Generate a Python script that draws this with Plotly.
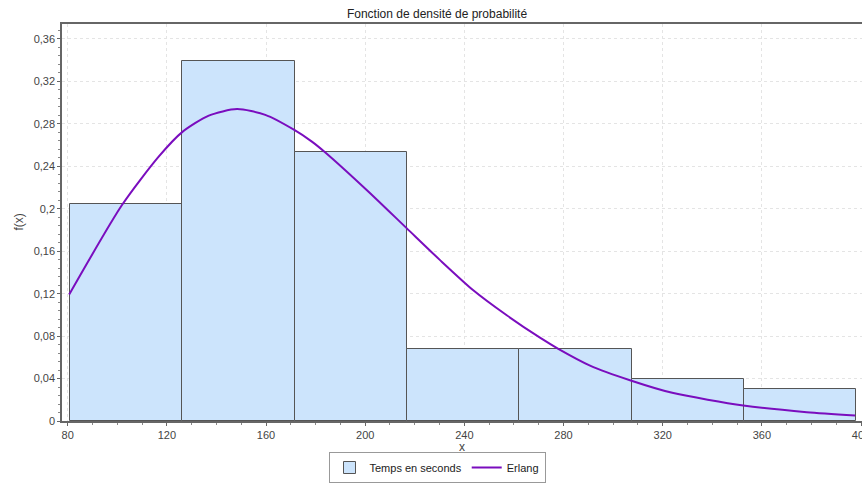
import plotly.graph_objects as go

# Histogram of observed durations (relative frequency per class)
bin_edges = [81.0, 126.3, 171.6, 216.9, 262.2, 307.5, 352.8, 398.1]
rel_freq = [0.2042, 0.3395, 0.2533, 0.0682, 0.0682, 0.0398, 0.0304]

# Fitted Erlang density, sampled along the x axis
erlang_x = [80.6, 101.9, 116.7, 126.4, 136.9, 148.3, 159.7, 171.4, 178.5, 183.8,
            200.6, 216.8, 230.2, 243.6, 257.1, 270.5, 277.9, 290.7, 307.1, 324.3,
            352.5, 378.1, 397.6]
erlang_y = [0.1192, 0.2035, 0.2491, 0.2727, 0.2878, 0.2939, 0.2885, 0.2743, 0.2633, 0.2533,
            0.2177, 0.1815, 0.1516, 0.1232, 0.0996, 0.0785, 0.0680, 0.0522, 0.0382, 0.0263,
            0.0146, 0.0083, 0.0052]

# Axis ticks (French decimal comma)
y_tick_vals = [0, 0.04, 0.08, 0.12, 0.16, 0.2, 0.24, 0.28, 0.32, 0.36]
y_tick_text = ["0", "0,04", "0,08", "0,12", "0,16", "0,2", "0,24", "0,28", "0,32", "0,36"]
x_tick_vals = [80, 120, 160, 200, 240, 280, 320, 360, 400]

centers = [(a + b) / 2 for a, b in zip(bin_edges[:-1], bin_edges[1:])]
widths = [b - a for a, b in zip(bin_edges[:-1], bin_edges[1:])]

FONT = "Liberation Sans, Arial, sans-serif"

fig = go.Figure()
fig.add_trace(go.Bar(
    x=centers, y=rel_freq, width=widths,
    name="Temps en seconds",
    marker=dict(color="#CCE4FC", line=dict(color="#555555", width=1)),
))
fig.add_trace(go.Scatter(
    x=erlang_x, y=erlang_y, mode="lines", name="Erlang",
    line=dict(color="#7A0DBE", width=2, shape="spline", smoothing=0.7),
))

axis_common = dict(
    showline=True, linecolor="#666666", linewidth=1.5, mirror=True,
    ticks="outside", ticklen=3, tickcolor="#666666",
    showgrid=True, gridcolor="#E4E4E4", griddash="3px,3px", gridwidth=1,
    zeroline=False, automargin=False, ticklabeloverflow="allow",
    tickfont=dict(family=FONT, size=11, color="#444444"),
)

fig.update_xaxes(
    range=[77.7, 400.4], tickvals=x_tick_vals,
    minor=dict(dtick=10, tick0=80, ticks="outside", ticklen=2, tickcolor="#888888", showgrid=False),
    **axis_common,
)
fig.update_yaxes(
    range=[0, 0.3741], tickvals=y_tick_vals, ticktext=y_tick_text,
    minor=dict(dtick=0.008, tick0=0, ticks="outside", ticklen=2, tickcolor="#888888", showgrid=False),
    **axis_common,
)

# Axis captions placed next to the tick labels
fig.add_annotation(
    text="x", xref="paper", yref="paper", x=0.5, y=-0.066,
    xanchor="center", yanchor="middle", showarrow=False,
    font=dict(family=FONT, size=12, color="#444444"),
)
fig.add_annotation(
    text="f(x)", xref="paper", yref="paper", x=-0.055, y=0.5,
    xanchor="center", yanchor="middle", textangle=-90, showarrow=False,
    font=dict(family=FONT, size=12, color="#444444"),
)

fig.update_layout(
    width=862, height=485,
    margin=dict(l=62, r=0, t=24, b=64, autoexpand=False),
    paper_bgcolor="white", plot_bgcolor="white",
    bargap=0,
    font=dict(family=FONT, size=11, color="#333333"),
    title=dict(
        text="Fonction de densité de probabilité",
        x=437 / 862, xref="container", xanchor="center",
        y=1 - 14 / 485, yref="container", yanchor="middle",
        font=dict(family=FONT, size=12, color="#222222"),
    ),
    showlegend=True,
    legend=dict(
        orientation="h",
        x=437 / 862, xref="container", xanchor="center",
        y=2 / 485, yref="container", yanchor="bottom",
        bordercolor="#999999", borderwidth=1, bgcolor="white",
        font=dict(family=FONT, size=11, color="#222222"),
        itemwidth=30, tracegroupgap=0,
    ),
)

fig.write_html("out.html")
